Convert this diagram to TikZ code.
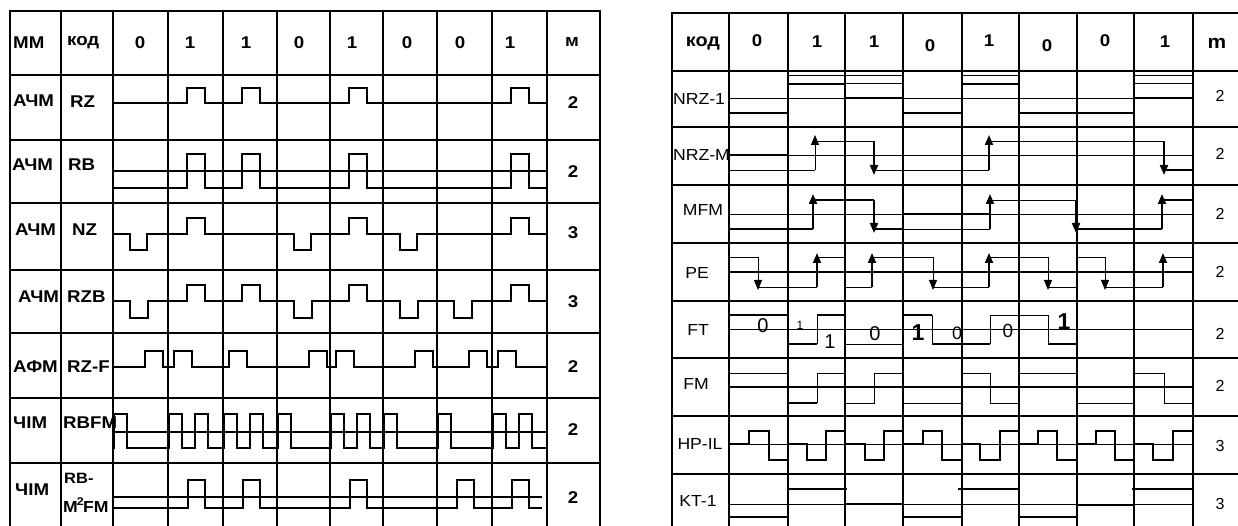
\documentclass[tikz,border=0pt]{standalone}
\usepackage{fontspec}
\setmainfont{Liberation Sans}
\newfontfamily\widesans{Liberation Sans}[FakeStretch=1.1]
\usetikzlibrary{arrows.meta}
\tikzset{
  lgrid/.style={line width=2.4pt},
  rgrid/.style={line width=1.8pt},
  pulse/.style={line width=1.6pt},
  refline/.style={line width=0.9pt},
  midline/.style={line width=1.3pt},
  sigline/.style={line width=2pt},
  arr/.style={-{Triangle[length=10pt,width=8pt]}},
  lab/.style={inner sep=0pt,font=\widesans\bfseries\fontsize{17}{17}\selectfont},
  rlab/.style={inner sep=0pt,font=\widesans\fontsize{16}{16}\selectfont},
  rhead/.style={inner sep=0pt,font=\widesans\bfseries\fontsize{17}{17}\selectfont},
  ftdigit/.style={inner sep=0pt,font=\fontsize{#1}{#1}\selectfont},
}
\begin{document}
\begin{tikzpicture}[x=1pt,y=-1pt]
\useasboundingbox (0,0) rectangle (1238,526);
\fill[white] (0,0) rectangle (1238,526);
\clip (0,0) rectangle (1238,526);
% left table
\foreach \x in {10,61,113,168,223,277,330,383,437,492,547,600}
  \draw[lgrid] (\x,10) -- (\x,530);
\foreach \y in {11,75,140,203,270,333,398,463}
  \draw[lgrid] (9,\y) -- (601,\y);
\node[lab,anchor=west] (mm) at (13,43) {ММ};
\node[lab,anchor=west] (kod) at (67,43) {код};
\foreach \x/\b [count=\i] in {140/0,190/1,246/1,299/0,352/1,407/0,460/0,510/1}
  \node[lab] (lbit\i) at (\x,43) {\b};
\node[lab] (lm) at (572,42) {м};
\node[lab,anchor=west] (mod1) at (13,101) {АЧМ};
\node[lab,anchor=west] (code1) at (70,102) {RZ};
\node[lab,anchor=west] (mod2) at (12,165) {АЧМ};
\node[lab,anchor=west] (code2) at (68,165) {RB};
\node[lab,anchor=west] (mod3) at (15,230) {АЧМ};
\node[lab,anchor=west] (code3) at (72,230) {NZ};
\node[lab,anchor=west] (mod4) at (18,297) {АЧМ};
\node[lab,anchor=west] (code4) at (67,297) {RZB};
\node[lab,anchor=west] (mod5) at (13,367) {АФМ};
\node[lab,anchor=west] (code5) at (67,367) {RZ-F};
\node[lab,anchor=west] (mod6) at (13,423) {ЧІМ};
\node[lab,anchor=west] (code6) at (63,423) {RBFM};
\node[lab,anchor=west] (mod7) at (15,490) {ЧІМ};
\node[lab,anchor=west,font=\widesans\bfseries\fontsize{15}{15}\selectfont] (code7a) at (64,478) {RB-};
\node[lab,anchor=west,font=\widesans\bfseries\fontsize{16}{16}\selectfont] (code7b) at (63,505) {M\kern-1pt\textsuperscript{2}\kern-1pt FM};
\foreach \y/\m [count=\i] in {103/2,172/2,233/3,302/3,367/2,430/2,498/2}
  \node[lab] (lmv\i) at (573,\y) {\m};
% RZ
\foreach \c in {113,277,383,437} \draw[pulse] (\c,103) -- (\c+55,103);
\foreach \c in {168,223,330,492} \draw[pulse] (\c,103) -- (\c+19,103) |- (\c+37,88) |- (\c+55,103);
% RB
\draw[pulse] (113,171) -- (547,171);
\foreach \c in {113,277,383,437} \draw[pulse] (\c,188) -- (\c+55,188);
\foreach \c in {168,223,330,492} \draw[pulse] (\c,188) -- (\c+19,188) |- (\c+37,154) |- (\c+55,188);
% NZ
\foreach \c in {223,437} \draw[pulse] (\c,234) -- (\c+55,234);
\foreach \c in {168,330,492} \draw[pulse] (\c,234) -- (\c+19,234) |- (\c+37,218) |- (\c+55,234);
\foreach \c in {113,277,383} \draw[pulse] (\c,234) -- (\c+17,234) |- (\c+34,250) |- (\c+55,234);
% RZB
\foreach \c in {168,223,330,492} \draw[pulse] (\c,301) -- (\c+19,301) |- (\c+37,285) |- (\c+55,301);
\foreach \c in {113,277,383,437} \draw[pulse] (\c,301) -- (\c+17,301) |- (\c+35,318) |- (\c+55,301);
% RZ-F
\foreach \c in {168,223,330,492} \draw[pulse] (\c,367) -- (\c+6,367) |- (\c+24,351) |- (\c+55,367);
\foreach \c in {113,277,383,437} \draw[pulse] (\c,367) -- (\c+32,367) |- (\c+50,351) |- (\c+55,367);
% RBFM
\draw[pulse] (113,432) -- (547,432);
\foreach \c in {113,277,383,437} \draw[pulse] (\c,448) -- (\c+1,448) |- (\c+14,414) |- (\c+55,448);
\foreach \c in {168,223,330,492} \draw[pulse] (\c,448) -- (\c+1,448) |- (\c+14,414) |- (\c+27,448) |- (\c+40,414) |- (\c+55,448);
% RB-M2FM
\draw[pulse] (113,497) -- (542,497);
\foreach \c in {113,277,383} \draw[pulse] (\c,508) -- (\c+55,508);
\foreach \c/\e in {168/223,223/277,330/383,437/492,492/542} \draw[pulse] (\c,508) -- (\c+20,508) |- (\c+37,480) |- (\e,508);
% right table
\foreach \x in {672,729,788,903,962,1019,1077,1134,1193}
  \draw[rgrid] (\x,12) -- (\x,530);
\draw[rgrid,line width=1.1pt] (845,12) -- (845,530);
\foreach \y in {13,71,127,185,243,301,358,416,474}
  \draw[rgrid] (671,\y) -- (1240,\y);
\node[rhead,font=\widesans\bfseries\fontsize{18}{18}\selectfont] (rkod) at (703,43) {код};
\foreach \x/\y/\b [count=\i] in {757/41/0,817/42/1,874/42/1,930/46/0,989/41/1,1047/46/0,1105/41/0,1165/42/1}
  \node[rhead] (rbit\i) at (\x,\y) {\b};
\node[rhead,font=\widesans\bfseries\fontsize{19}{19}\selectfont] (rm) at (1217,43) {m};
\node[rlab,anchor=west] (nrz1) at (673,99) {NRZ-1};
\node[rlab,anchor=west] (nrzm) at (673,155) {NRZ-M};
\node[rlab] (mfm) at (703,210) {MFM};
\node[rlab] (pe) at (697,273) {PE};
\node[rlab] (ft) at (698,330) {FT};
\node[rlab] (fm) at (696,384) {FM};
\node[rlab] (hpil) at (700,444) {HP-IL};
\node[rlab] (kt1) at (698,501) {KT-1};
\foreach \y/\m [count=\i] in {96/2,154/2,214/2,272/2,334/2,386/2,446/3,504/3}
  \node[rlab,font=\fontsize{16}{16}\selectfont] (rmv\i) at (1220,\y) {\m};
% NRZ-1
\draw[refline] (729,98) -- (1193,98);
\foreach \c/\e in {788/845,845/903,962/1019,1134/1193} \draw[refline] (\c,75) -- (\e,75);
\foreach \c/\e in {788/845,962/1019} \draw[sigline] (\c,84) -- (\e,84);
\foreach \c/\e in {845/903,1134/1193} {\draw[refline] (\c,83) -- (\e,83); \draw[sigline] (\c,98) -- (\e,98);}
\foreach \c/\e in {729/788,903/962,1019/1077,1077/1134} \draw[midline] (\c,113) -- (\e,113);
% NRZ-M
\draw[refline] (729,155) -- (1193,155);
\draw[sigline] (729,155) -- (788,155);
\draw[refline] (729,170) -- (815,170);
\draw[refline,arr] (815,170) -- (815,135);
\draw[refline] (815,141) -- (874,141);
\draw[sigline,arr] (874,141) -- (874,175);
\draw[refline] (874,170) -- (989,170);
\draw[sigline,arr] (989,170) -- (989,135);
\draw[refline] (989,141) -- (1164,141);
\draw[sigline,arr] (1164,141) -- (1164,175);
\draw[sigline] (1164,170) -- (1193,170);
% MFM
\draw[refline] (729,214) -- (1193,214);
\draw[sigline] (729,229) -- (813,229);
\draw[sigline,arr] (813,229) -- (813,194);
\draw[sigline] (813,200) -- (874,200);
\draw[sigline,arr] (874,200) -- (874,233);
\draw[sigline] (874,229) -- (903,229) -- (903,214) -- (990,214);
\draw[refline] (903,229) -- (990,229);
\draw[sigline,arr] (990,229) -- (990,194);
\draw[refline] (990,200) -- (1076,200);
\draw[sigline,arr] (1076,200) -- (1076,233);
\draw[sigline] (1076,229) -- (1162,229);
\draw[sigline,arr] (1162,229) -- (1162,194);
\draw[sigline] (1162,200) -- (1193,200);
% PE
\draw[sigline] (729,272) -- (1193,272);
\foreach \c/\t/\e in {729/758/788,903/933/962,1019/1048/1077,1077/1105/1134} {
  \draw[refline] (\c,257) -- (\t,257);
  \draw[refline,arr] (\t,257) -- (\t,290);
  \draw[refline] (\t,287) -- (\e,287);
}
\foreach \c/\t/\e in {788/817/845,845/872/903,962/989/1019,1134/1163/1193} {
  \draw[refline] (\c,287) -- (\t,287);
  \draw[sigline,arr] (\t,287) -- (\t,253);
  \draw[refline] (\t,257) -- (\e,257);
}
% FT
\draw[refline] (729,329) -- (1193,329);
\draw[sigline] (729,315) -- (788,315);
\draw[sigline] (788,344) -- (817,344);
\draw[refline] (817,344) -- (817,315);
\draw[sigline] (817,315) -- (845,315);
\draw[refline] (845,344) -- (903,344);
\draw[sigline] (903,315) -- (932,315);
\draw[refline] (932,315) -- (932,344);
\draw[sigline] (932,344) -- (990,344);
\draw[refline] (990,344) -- (990,315) -- (1048,315) -- (1048,344);
\draw[sigline] (1048,344) -- (1077,344);
\node[ftdigit=20] (ft0a) at (763,326) {0};
\node[ftdigit=12] (ft1a) at (800,325) {1};
\node[ftdigit=20] (ft1b) at (830,342) {1};
\node[ftdigit=20] (ft0b) at (875,334) {0};
\node[ftdigit=23,font=\bfseries\fontsize{23}{23}\selectfont] (ft1c) at (918,333) {1};
\node[ftdigit=18] (ft0c) at (957,333) {0};
\node[ftdigit=19] (ft0d) at (1008,331) {0};
\node[ftdigit=23,font=\bfseries\fontsize{23}{23}\selectfont] (ft1d) at (1064,322) {1};
% FM
\draw[midline] (729,387) -- (1193,387);
\draw[refline] (729,373) -- (788,373);
\draw[sigline] (788,403) -- (817,403);
\draw[refline] (817,403) -- (817,373) -- (845,373);
\draw[refline] (845,403) -- (874,403) -- (874,373) -- (903,373);
\draw[refline] (903,403) -- (962,403);
\draw[refline] (962,373) -- (990,373) -- (990,403) -- (1019,403);
\draw[refline] (1019,373) -- (1077,373);
\draw[refline] (1077,403) -- (1134,403);
\draw[refline] (1134,373) -- (1164,373) -- (1164,403) -- (1193,403);
% HP-IL
\draw[refline] (729,444) -- (1193,444);
\foreach \c/\a/\b/\e in {729/749/769/788,903/923/942/962,1019/1038/1057/1077,1077/1096/1115/1134}
  \draw[midline] (\c,444) -- (\a,444) -- (\a,431) -- (\b,431) -- (\b,460) -- (\e,460);
\foreach \c/\a/\b/\e in {788/807/826/845,845/865/884/903,962/980/1000/1019,1134/1153/1173/1193}
  \draw[midline] (\c,444) -- (\a,444) -- (\a,460) -- (\b,460) -- (\b,431) -- (\e,431);
% KT-1
\draw[refline] (729,504) -- (1193,504);
\foreach \c/\e in {729/788,903/962,1019/1077} \draw[sigline] (\c,517) -- (\e,517);
\foreach \c/\e in {788/847,958/1019,1132/1193} \draw[sigline] (\c,489) -- (\e,489);
\draw[midline] (845,504) -- (903,504);
\draw[midline] (1077,505) -- (1134,505);
\end{tikzpicture}
\end{document}
